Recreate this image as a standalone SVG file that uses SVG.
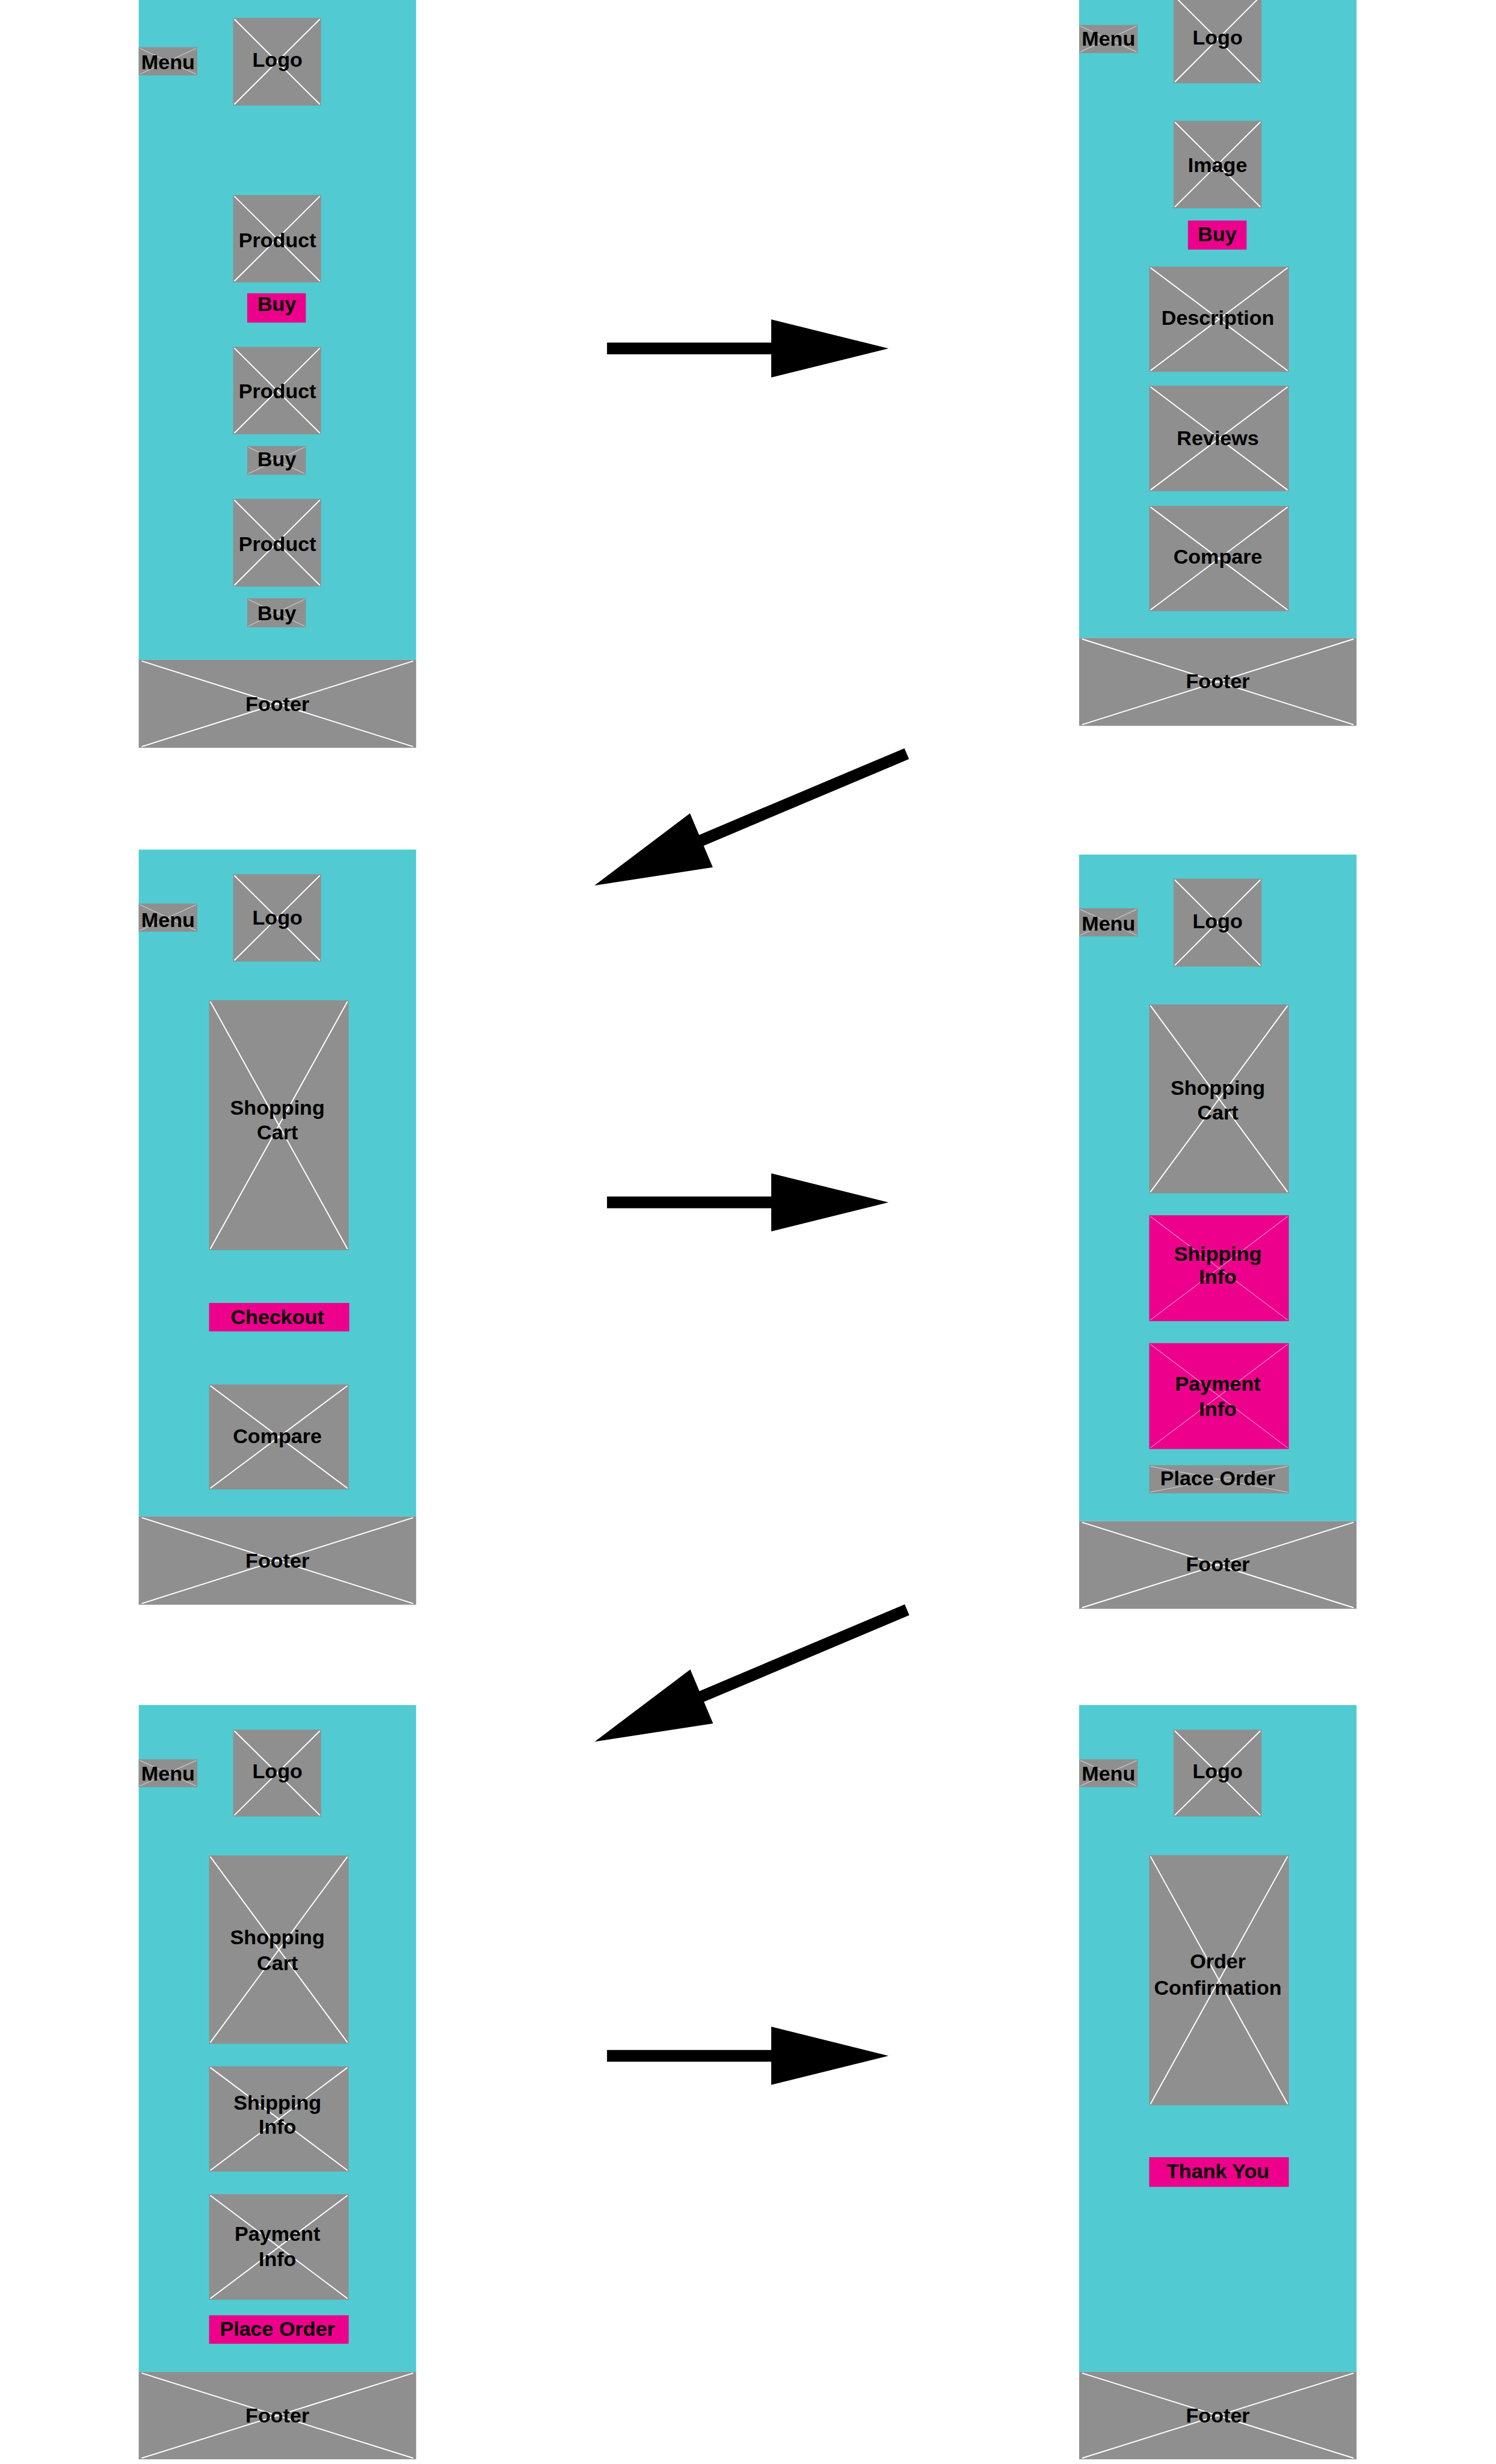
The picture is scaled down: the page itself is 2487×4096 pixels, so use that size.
<svg xmlns="http://www.w3.org/2000/svg" xmlns:xlink="http://www.w3.org/1999/xlink" width="2487" height="4096" viewBox="0 0 2487 4096">
<style>
.bg{fill:#ffffff}
.panel{fill:#51cbd1}
.box{fill:#8f8f8f}
.pink{fill:#ec008c}
.x{stroke:#ffffff;stroke-width:2;fill:none}
.xf{stroke:#ffffff;stroke-opacity:.45;stroke-width:1.5;fill:none}
.arrow{fill:#000000}
text{font-family:"Liberation Sans",Arial,sans-serif;font-weight:bold;font-size:35px;text-anchor:middle;fill:#000000}
</style>
<defs>
<path id="harrow" d="M0,-10H280V-49.5L480,0L280,49.5V10H0Z"/>
<path id="darrow" d="M0,-10H380V-50L578,0L380,50V10H0Z"/>
</defs>
<rect class="bg" x="0" y="0" width="2487" height="4096"/>
<g transform="scale(0.975)">

<g id="page1">
<rect class="panel" x="236.5" y="-10" width="473" height="1135"/>
<g id="p1-menu"><rect class="box" x="236.5" y="80.5" width="100" height="48"/><path class="xf" d="M238.5,82.5L334.5,126.5M334.5,82.5L238.5,126.5"/><text x="286.5" y="117.5">Menu</text></g>
<g id="p1-logo"><rect class="box" x="397.5" y="30.5" width="150" height="149.5"/><path class="x" d="M399.5,32.5L545.5,178M545.5,32.5L399.5,178"/><text x="473" y="114">Logo</text></g>
<g id="p1-product1"><rect class="box" x="397.5" y="332.5" width="150" height="149"/><path class="x" d="M399.5,334.5L545.5,479.5M545.5,334.5L399.5,479.5"/><text x="473" y="422">Product</text></g>
<g id="p1-buy1"><rect class="pink" x="421.5" y="500" width="100" height="50"/><text x="472" y="530">Buy</text></g>
<g id="p1-product2"><rect class="box" x="397.5" y="591.5" width="150" height="149"/><path class="x" d="M399.5,593.5L545.5,738.5M545.5,593.5L399.5,738.5"/><text x="473" y="679.5">Product</text></g>
<g id="p1-buy2"><rect class="box" x="421.5" y="760.5" width="100" height="49"/><path class="xf" d="M423.5,762.5L519.5,807.5M519.5,762.5L423.5,807.5"/><text x="472" y="795">Buy</text></g>
<g id="p1-product3"><rect class="box" x="397.5" y="850.5" width="150" height="149.5"/><path class="x" d="M399.5,852.5L545.5,998M545.5,852.5L399.5,998"/><text x="473" y="939">Product</text></g>
<g id="p1-buy3"><rect class="box" x="421.5" y="1020" width="100" height="49.5"/><path class="xf" d="M423.5,1022L519.5,1067.5M519.5,1022L423.5,1067.5"/><text x="472" y="1057">Buy</text></g>
<g id="p1-footer"><rect class="box" x="236.5" y="1125" width="473" height="150"/><path class="x" d="M241.5,1127L704.5,1273M704.5,1127L241.5,1273"/><text x="473" y="1212">Footer</text></g>
</g>

<g id="page2">
<rect class="panel" x="1840" y="-49" width="473" height="1136.5"/>
<g id="p2-menu"><rect class="box" x="1840" y="42.5" width="100" height="48"/><path class="xf" d="M1842,44.5L1938,88.5M1938,44.5L1842,88.5"/><text x="1890" y="78">Menu</text></g>
<g id="p2-logo"><rect class="box" x="2001" y="-8" width="150" height="150"/><path class="x" d="M2003,-6L2149,140M2149,-6L2003,140"/><text x="2076" y="76">Logo</text></g>
<g id="p2-image"><rect class="box" x="2001" y="206" width="150" height="149"/><path class="x" d="M2003,208L2149,353M2149,208L2003,353"/><text x="2076" y="293.5">Image</text></g>
<g id="p2-buy"><rect class="pink" x="2025.5" y="376" width="100" height="49.5"/><text x="2075.5" y="411">Buy</text></g>
<g id="p2-description"><rect class="box" x="1959.5" y="454.5" width="238" height="179.5"/><path class="x" d="M1961.5,456.5L2195.5,632M2195.5,456.5L1961.5,632"/><text x="2076.5" y="553.5">Description</text></g>
<g id="p2-reviews"><rect class="box" x="1959.5" y="657.5" width="238" height="180"/><path class="x" d="M1961.5,659.5L2195.5,835.5M2195.5,659.5L1961.5,835.5"/><text x="2076.5" y="758.5">Reviews</text></g>
<g id="p2-compare"><rect class="box" x="1959.5" y="862.5" width="238" height="179.5"/><path class="x" d="M1961.5,864.5L2195.5,1040M2195.5,864.5L1961.5,1040"/><text x="2076.5" y="961">Compare</text></g>
<g id="p2-footer"><rect class="box" x="1840" y="1087.5" width="473" height="150"/><path class="x" d="M1845,1089.5L2308,1235.5M2308,1089.5L1845,1235.5"/><text x="2076.5" y="1173">Footer</text></g>
</g>

<g id="page3">
<rect class="panel" x="236.5" y="1448.5" width="473" height="1137"/>
<g id="p3-menu"><rect class="box" x="236.5" y="1540.5" width="100" height="48"/><path class="xf" d="M238.5,1542.5L334.5,1586.5M334.5,1542.5L238.5,1586.5"/><text x="286.5" y="1581">Menu</text></g>
<g id="p3-logo"><rect class="box" x="397.5" y="1490.5" width="150" height="149"/><path class="x" d="M399.5,1492.5L545.5,1637.5M545.5,1492.5L399.5,1637.5"/><text x="473" y="1576">Logo</text></g>
<g id="p3-cart"><rect class="box" x="356.5" y="1705.5" width="238" height="426"/><path class="x" d="M358.5,1707.5L592.5,2129.5M592.5,1707.5L358.5,2129.5"/><text x="473" y="1901">Shopping</text><text x="473" y="1942.5">Cart</text></g>
<g id="p3-checkout"><rect class="pink" x="356.5" y="2221.5" width="239" height="48.5"/><text x="473" y="2257">Checkout</text></g>
<g id="p3-compare"><rect class="box" x="356.5" y="2360.5" width="238" height="179"/><path class="x" d="M358.5,2362.5L592.5,2537.5M592.5,2362.5L358.5,2537.5"/><text x="473" y="2460.5">Compare</text></g>
<g id="p3-footer"><rect class="box" x="236.5" y="2585.5" width="473" height="150.5"/><path class="x" d="M241.5,2587.5L704.5,2734M704.5,2587.5L241.5,2734"/><text x="473" y="2672.5">Footer</text></g>
</g>

<g id="page4">
<rect class="panel" x="1840" y="1457" width="473" height="1136.5"/>
<g id="p4-menu"><rect class="box" x="1840" y="1548.5" width="100" height="48"/><path class="xf" d="M1842,1550.5L1938,1594.5M1938,1550.5L1842,1594.5"/><text x="1890" y="1587">Menu</text></g>
<g id="p4-logo"><rect class="box" x="2001" y="1498" width="150" height="150"/><path class="x" d="M2003,1500L2149,1646M2149,1500L2003,1646"/><text x="2076" y="1582.5">Logo</text></g>
<g id="p4-cart"><rect class="box" x="1959.5" y="1712.5" width="238" height="322"/><path class="x" d="M1961.5,1714.5L2195.5,2032.5M2195.5,1714.5L1961.5,2032.5"/><text x="2076.5" y="1867">Shopping</text><text x="2076.5" y="1909">Cart</text></g>
<g id="p4-shipping"><rect class="pink" x="1959.5" y="2072" width="238" height="180.5"/><path class="xf" d="M1961.5,2074L2195.5,2250.5M2195.5,2074L1961.5,2250.5"/><text x="2076.5" y="2149.5">Shipping</text><text x="2076.5" y="2189">Info</text></g>
<g id="p4-payment"><rect class="pink" x="1959.5" y="2290" width="238" height="180.5"/><path class="xf" d="M1961.5,2292L2195.5,2468.5M2195.5,2292L1961.5,2468.5"/><text x="2076.5" y="2371.5">Payment</text><text x="2076.5" y="2414">Info</text></g>
<g id="p4-placeorder"><rect class="box" x="1959.5" y="2498" width="238" height="48"/><path class="xf" d="M1961.5,2500L2195.5,2544M2195.5,2500L1961.5,2544"/><text x="2076.5" y="2532.5">Place Order</text></g>
<g id="p4-footer"><rect class="box" x="1840" y="2593.5" width="473" height="149.5"/><path class="x" d="M1845,2595.5L2308,2741M2308,2595.5L1845,2741"/><text x="2076.5" y="2678.5">Footer</text></g>
</g>

<g id="page5">
<rect class="panel" x="236.5" y="2907" width="473" height="1137"/>
<g id="p5-menu"><rect class="box" x="236.5" y="2999.5" width="100" height="47.5"/><path class="xf" d="M238.5,3001.5L334.5,3045M334.5,3001.5L238.5,3045"/><text x="286.5" y="3035.5">Menu</text></g>
<g id="p5-logo"><rect class="box" x="397.5" y="2949" width="150" height="148"/><path class="x" d="M399.5,2951L545.5,3095M545.5,2951L399.5,3095"/><text x="473" y="3031.5">Logo</text></g>
<g id="p5-cart"><rect class="box" x="356.5" y="3163.5" width="238" height="321"/><path class="x" d="M358.5,3165.5L592.5,3482.5M592.5,3165.5L358.5,3482.5"/><text x="473" y="3315">Shopping</text><text x="473" y="3359">Cart</text></g>
<g id="p5-shipping"><rect class="box" x="356.5" y="3523" width="238" height="179.5"/><path class="x" d="M358.5,3525L592.5,3700.5M592.5,3525L358.5,3700.5"/><text x="473" y="3597">Shipping</text><text x="473" y="3637.5">Info</text></g>
<g id="p5-payment"><rect class="box" x="356.5" y="3741" width="238" height="180"/><path class="x" d="M358.5,3743L592.5,3919M592.5,3743L358.5,3919"/><text x="473" y="3821">Payment</text><text x="473" y="3864">Info</text></g>
<g id="p5-placeorder"><rect class="pink" x="356.5" y="3947.5" width="238" height="48.5"/><text x="473" y="3982.5">Place Order</text></g>
<g id="p5-footer"><rect class="box" x="236.5" y="4044" width="473" height="149"/><path class="x" d="M241.5,4046L704.5,4191M704.5,4046L241.5,4191"/><text x="473" y="4130">Footer</text></g>
</g>

<g id="page6">
<rect class="panel" x="1840" y="2907" width="473" height="1137"/>
<g id="p6-menu"><rect class="box" x="1840" y="2999.5" width="100" height="47.5"/><path class="xf" d="M1842,3001.5L1938,3045M1938,3001.5L1842,3045"/><text x="1890" y="3035.5">Menu</text></g>
<g id="p6-logo"><rect class="box" x="2001" y="2949" width="150" height="148"/><path class="x" d="M2003,2951L2149,3095M2149,2951L2003,3095"/><text x="2076" y="3031.5">Logo</text></g>
<g id="p6-confirmation"><rect class="box" x="1959.5" y="3163" width="238" height="426.5"/><path class="x" d="M1961.5,3165L2195.5,3587.5M2195.5,3165L1961.5,3587.5"/><text x="2076.5" y="3355.5">Order</text><text x="2076.5" y="3401.5">Confirmation</text></g>
<g id="p6-thankyou"><rect class="pink" x="1959.5" y="3678" width="238" height="50.5"/><text x="2076.5" y="3713.5">Thank You</text></g>
<g id="p6-footer"><rect class="box" x="1840" y="4044" width="473" height="149"/><path class="x" d="M1845,4046L2308,4191M2308,4046L1845,4191"/><text x="2076.5" y="4130">Footer</text></g>
</g>

<g id="connectors" class="arrow">
<use xlink:href="#harrow" href="#harrow" transform="translate(1035,594)"/>
<use xlink:href="#darrow" href="#darrow" transform="translate(1546,1285) rotate(157.12)"/>
<use xlink:href="#harrow" href="#harrow" transform="translate(1035,2050)"/>
<use xlink:href="#darrow" href="#darrow" transform="translate(1546.5,2744.7) rotate(157.12)"/>
<use xlink:href="#harrow" href="#harrow" transform="translate(1035,3505)"/>
</g>

</g>
</svg>
